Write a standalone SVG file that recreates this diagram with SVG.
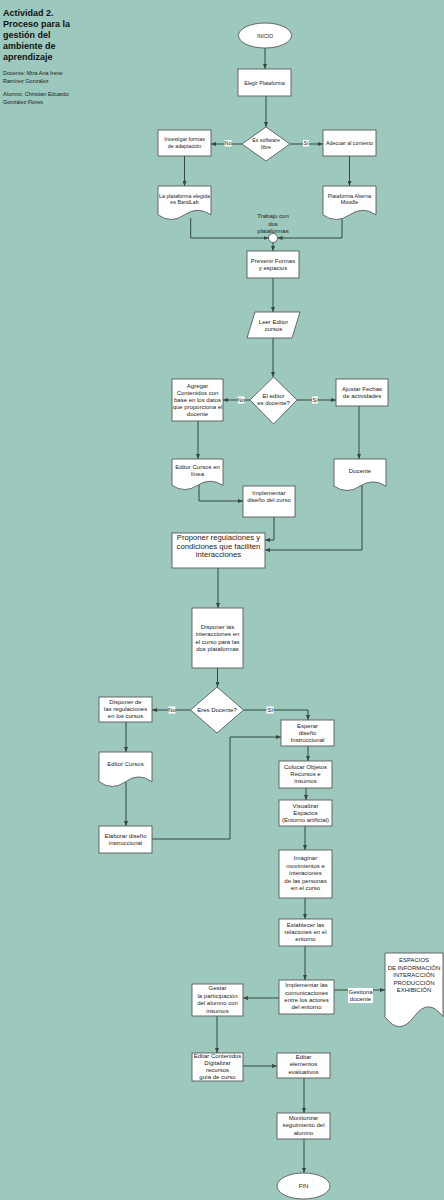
<svg xmlns="http://www.w3.org/2000/svg" width="444" height="1200" viewBox="0 0 444 1200">
<style>
.n{fill:#fff;stroke:#5a5a5a;stroke-width:0.9}
.c{fill:none;stroke:#34483f;stroke-width:1}
.t{font-family:"Liberation Sans",Arial,sans-serif;font-size:6px;fill:#222;text-anchor:middle}
.s{font-size:5.3px}
.lb{fill:#fff}
.ti{font-family:"Liberation Sans",Arial,sans-serif;font-size:9px;font-weight:bold;fill:#111}
.sm{font-family:"Liberation Sans",Arial,sans-serif;font-size:5.5px;fill:#222}
</style>
<defs>
<marker id="a" viewBox="0 0 10 8" markerWidth="5" markerHeight="4" refX="10" refY="4" orient="auto" markerUnits="userSpaceOnUse">
<path d="M0,0 L10,4 L0,8 z" fill="#34483f"/>
</marker>
</defs>
<rect x="0" y="0" width="444" height="1200" fill="#9cc8bd"/>

<g id="title">
<text class="ti" x="3" y="15.5">Actividad 2.</text>
<text class="ti" x="3" y="26.5">Proceso para la</text>
<text class="ti" x="3" y="37.5">gestión del</text>
<text class="ti" x="3" y="48.5">ambiente de</text>
<text class="ti" x="3" y="59.5">aprendizaje</text>
<text class="sm" x="3" y="75">Docente: Mtra Ana Irene</text>
<text class="sm" x="3" y="83">Ramírez González</text>
<text class="sm" x="3" y="96">Alumno: Christian Eduardo</text>
<text class="sm" x="3" y="104">González Flores</text>
</g>

<g id="connectors">
<line class="c" x1="265" y1="48" x2="265" y2="69" marker-end="url(#a)"/>
<line class="c" x1="266" y1="96" x2="266" y2="127" marker-end="url(#a)"/>
<line class="c" x1="242" y1="144" x2="211" y2="144" marker-end="url(#a)"/>
<line class="c" x1="290" y1="144" x2="323" y2="144" marker-end="url(#a)"/>
<line class="c" x1="184.5" y1="156" x2="184.5" y2="186" marker-end="url(#a)"/>
<line class="c" x1="349.5" y1="156" x2="349.5" y2="186" marker-end="url(#a)"/>
<polyline class="c" points="190.7,218 190.7,238 268.5,238" marker-end="url(#a)"/>
<polyline class="c" points="342,218 342,238 277.5,238" marker-end="url(#a)"/>
<line class="c" x1="273" y1="242.5" x2="273" y2="251" marker-end="url(#a)"/>
<line class="c" x1="273" y1="278" x2="273" y2="312" marker-end="url(#a)"/>
<line class="c" x1="273" y1="338" x2="273" y2="377" marker-end="url(#a)"/>
<line class="c" x1="250" y1="400" x2="223" y2="400" marker-end="url(#a)"/>
<line class="c" x1="297" y1="400" x2="336" y2="400" marker-end="url(#a)"/>
<line class="c" x1="198" y1="421" x2="198" y2="459" marker-end="url(#a)"/>
<line class="c" x1="359" y1="406" x2="359" y2="459" marker-end="url(#a)"/>
<polyline class="c" points="199,485 199,501 243,501" marker-end="url(#a)"/>
<polyline class="c" points="274,517 274,540 265,540" marker-end="url(#a)"/>
<polyline class="c" points="362,484 362,550 265,550" marker-end="url(#a)"/>
<line class="c" x1="218" y1="568" x2="218" y2="608" marker-end="url(#a)"/>
<line class="c" x1="217.5" y1="668" x2="217.5" y2="687" marker-end="url(#a)"/>
<line class="c" x1="190.5" y1="710" x2="152" y2="710" marker-end="url(#a)"/>
<polyline class="c" points="243.5,710 308,710 308,720" marker-end="url(#a)"/>
<line class="c" x1="126" y1="722" x2="126" y2="752" marker-end="url(#a)"/>
<line class="c" x1="126" y1="782" x2="126" y2="826" marker-end="url(#a)"/>
<polyline class="c" points="152,839 230,839 230,737 281,737" marker-end="url(#a)"/>
<line class="c" x1="308" y1="746" x2="308" y2="761" marker-end="url(#a)"/>
<line class="c" x1="306" y1="788" x2="306" y2="800" marker-end="url(#a)"/>
<line class="c" x1="305" y1="826" x2="305" y2="850" marker-end="url(#a)"/>
<line class="c" x1="305" y1="898" x2="305" y2="919" marker-end="url(#a)"/>
<line class="c" x1="305" y1="946" x2="305" y2="980" marker-end="url(#a)"/>
<line class="c" x1="279" y1="998" x2="243" y2="998" marker-end="url(#a)"/>
<line class="c" x1="334" y1="990" x2="385" y2="990" marker-end="url(#a)"/>
<line class="c" x1="217" y1="1016" x2="217" y2="1053" marker-end="url(#a)"/>
<line class="c" x1="243" y1="1066" x2="277" y2="1066" marker-end="url(#a)"/>
<line class="c" x1="304" y1="1078" x2="304" y2="1113" marker-end="url(#a)"/>
<line class="c" x1="304" y1="1139" x2="304" y2="1173" marker-end="url(#a)"/>
<!-- labels -->
<rect class="lb" x="224.5" y="140" width="7" height="6.5"/><text class="t s" x="228" y="145.3">No</text>
<rect class="lb" x="303" y="140" width="6" height="6.5"/><text class="t s" x="306" y="145.3">Sí</text>
<rect class="lb" x="237.5" y="396.5" width="7" height="7"/><text class="t" x="241" y="402">No</text>
<rect class="lb" x="312" y="396.5" width="6" height="7"/><text class="t" x="315" y="402">Sí</text>
<rect class="lb" x="168.5" y="706.5" width="7" height="7"/><text class="t" x="172" y="712">No</text>
<rect class="lb" x="266.5" y="706.5" width="7" height="7"/><text class="t" x="270" y="712">SI</text>
<rect class="lb" x="348" y="988" width="25" height="15"/>
<text class="t" x="360.5" y="993.5">Gestiona</text>
<text class="t" x="360.5" y="1000.5">docente</text>
<text class="t" x="273" y="218">Trabajo con</text>
<text class="t" x="273" y="225.5">dos</text>
<text class="t" x="273" y="233">plataformas</text>
</g>

<g id="inicio"><ellipse class="n" cx="265" cy="35.5" rx="26.5" ry="12.5"/><text class="t s" x="265" y="37.5">INICIO</text></g>
<g id="elegir"><rect class="n" x="238" y="69" width="53" height="27"/><text class="t s" x="264.5" y="84.5">Elegir Plataforma</text></g>
<g id="software"><polygon class="n" points="266,127 290,144 266,161 242,144"/><text class="t s" x="266" y="142">Es software</text><text class="t s" x="266" y="149">libre</text></g>
<g id="investigar"><rect class="n" x="158" y="130" width="53" height="26"/><text class="t s" x="184.5" y="141.3">Investigar formas</text><text class="t s" x="184.5" y="148">de adaptación</text></g>
<g id="adecuar"><rect class="n" x="323" y="130" width="53" height="26"/><text class="t s" x="349.5" y="145.3">Adecuar al contexto</text></g>
<g id="bandlab"><path class="n" d="M158,186 H211 V214.9 Q197.75,205.7 184.5,214.9 Q171.25,224.1 158,214.9 Z"/><text class="t s" x="184.5" y="197.7">La plataforma elegida</text><text class="t s" x="184.5" y="203.7">es BandLab</text></g>
<g id="moodle"><path class="n" d="M323,186 H376 V214.9 Q362.75,205.7 349.5,214.9 Q336.25,224.1 323,214.9 Z"/><text class="t s" x="349.5" y="197.7">Plataforma Alterna</text><text class="t s" x="349.5" y="203.7">Moodle</text></g>
<g id="junction"><circle class="n" cx="273" cy="238" r="4.5"/></g>
<g id="prevenir"><rect class="n" x="247" y="251" width="52" height="27"/><text class="t" x="273" y="263">Prevenir Formas</text><text class="t" x="273" y="270">y espacios</text></g>
<g id="leer"><polygon class="n" points="255,312 300,312 292,338 247,338"/><text class="t" x="273.5" y="323.7">Leer Editor</text><text class="t" x="273.5" y="330.7">cursos</text></g>
<g id="editor-docente"><polygon class="n" points="273.5,377 297,400 273.5,424 250,400"/><text class="t" x="273.5" y="398.3">El editor</text><text class="t" x="273.5" y="405.3">es docente?</text></g>
<g id="agregar"><rect class="n" x="172" y="379" width="51" height="42"/>
<text class="t" x="197.5" y="387.5">Agregar</text><text class="t" x="197.5" y="394.7">Contenidos con</text><text class="t" x="197.5" y="401.9">base en los datos</text><text class="t" x="197.5" y="409.1">que proporciona el</text><text class="t" x="197.5" y="416.3">docente</text></g>
<g id="ajustar"><rect class="n" x="336" y="379" width="52" height="27"/><text class="t" x="362" y="391">Ajustar Fechas</text><text class="t" x="362" y="397.7">de actividades</text></g>
<g id="editor-linea"><path class="n" d="M172,459 H223 V485.4 Q210.25,477 197.5,485.4 Q184.75,493.7 172,485.4 Z"/><text class="t" x="197.5" y="469.3">Editor Cursos en</text><text class="t" x="197.5" y="476">línea</text></g>
<g id="docente"><path class="n" d="M334,459 H386 V486.2 Q373,477.6 360,486.2 Q347,494.8 334,486.2 Z"/><text class="t" x="360" y="472.7">Docente</text></g>
<g id="implementar-diseno"><rect class="n" x="243" y="486" width="52" height="31"/><text class="t" x="269" y="495.3">Implementar</text><text class="t" x="269" y="502.3">diseño del curso</text></g>
<g id="proponer"><rect class="n" x="172" y="533" width="93" height="35"/><text class="t" style="font-size:7.7px" x="218.5" y="539.8">Proponer regulaciones y</text><text class="t" style="font-size:7.7px" x="218.5" y="548.6">condiciones que faciliten</text><text class="t" style="font-size:7.7px" x="218.5" y="557.4">interacciones</text></g>
<g id="disponer"><rect class="n" x="192" y="608" width="51" height="60"/><text class="t" x="217.5" y="628.7">Disponer las</text><text class="t" x="217.5" y="636.2">interacciones en</text><text class="t" x="217.5" y="643.7">el curso para las</text><text class="t" x="217.5" y="651">dos plataformas</text></g>
<g id="eres-docente"><polygon class="n" points="217,687 243.5,710 217,733 190.5,710"/><text class="t" x="217" y="711.5">Eres Docente?</text></g>
<g id="disponer-de"><rect class="n" x="99" y="697" width="53" height="25"/><text class="t" x="125.5" y="703.7">Disponer de</text><text class="t" x="125.5" y="711">las regulaciones</text><text class="t" x="125.5" y="718">en los cursos</text></g>
<g id="esperar"><rect class="n" x="281" y="720" width="53" height="26"/><text class="t" x="307.5" y="727.7">Esperar</text><text class="t" x="307.5" y="734.7">diseño</text><text class="t" x="307.5" y="742">Instruccional</text></g>
<g id="editor-cursos"><path class="n" d="M99,752 H152 V781.75 Q138.75,772 125.5,781.75 Q112.25,791.2 99,781.75 Z"/><text class="t" x="125.5" y="766.3">Editor Cursos</text></g>
<g id="elaborar"><rect class="n" x="99" y="826" width="53" height="27"/><text class="t" x="125.5" y="837.7">Elaborar diseño</text><text class="t" x="125.5" y="844.7">instruccional</text></g>
<g id="colocar"><rect class="n" x="279" y="761" width="53" height="27"/><text class="t" x="305.5" y="768.7">Colocar Objetos</text><text class="t" x="305.5" y="776">Recursos e</text><text class="t" x="305.5" y="783.3">insumos</text></g>
<g id="visualizar"><rect class="n" x="279" y="800" width="53" height="26"/><text class="t" x="305.5" y="808">Visualizar</text><text class="t" x="305.5" y="815">Espacios</text><text class="t" x="305.5" y="822.3">(Entorno artificial)</text></g>
<g id="imaginar"><rect class="n" x="279" y="850" width="53" height="48"/><text class="t" x="305.5" y="860.3">Imaginar</text><text class="t" x="305.5" y="867.7">movimientos e</text><text class="t" x="305.5" y="875.1">interaciones</text><text class="t" x="305.5" y="882.5">de las personas</text><text class="t" x="305.5" y="889.9">en el curso</text></g>
<g id="establecer"><rect class="n" x="279" y="919" width="53" height="27"/><text class="t" x="305.5" y="927">Establecer las</text><text class="t" x="305.5" y="934.3">relaciones en el</text><text class="t" x="305.5" y="941.3">entorno</text></g>
<g id="implementar-com"><rect class="n" x="279" y="980" width="55" height="34"/><text class="t" x="306.5" y="987">Implementar las</text><text class="t" x="306.5" y="994.5">comunicaciones</text><text class="t" x="306.5" y="1002">entre los actores</text><text class="t" x="306.5" y="1009.3">del entorno</text></g>
<g id="gestar"><rect class="n" x="192" y="984" width="51" height="32"/><text class="t" x="217.5" y="990.3">Gestar</text><text class="t" x="217.5" y="998">la participación</text><text class="t" x="217.5" y="1005.3">del alumno con</text><text class="t" x="217.5" y="1012.7">insumos</text></g>
<g id="espacios"><path class="n" d="M385,953 H443 V1016.75 Q428.5,997 414,1016.75 Q399.5,1036.5 385,1016.75 Z"/><text class="t" x="414" y="962">ESPACIOS</text><text class="t" x="414" y="969.5">DE INFORMACIÓN</text><text class="t" x="414" y="977">INTERACCIÓN</text><text class="t" x="414" y="984.5">PRODUCCIÓN</text><text class="t" x="414" y="992">EXHIBICIÓN</text></g>
<g id="editar-contenidos"><rect class="n" x="192" y="1053" width="51" height="28"/><text class="t" x="217.5" y="1057.5">Editar Contenidos</text><text class="t" x="217.5" y="1064.7">Digitalizar</text><text class="t" x="217.5" y="1071.5">recursos</text><text class="t" x="217.5" y="1078.7">guía de curso</text></g>
<g id="editar-elementos"><rect class="n" x="277" y="1053" width="53" height="25"/><text class="t" x="303.5" y="1058.7">Editar</text><text class="t" x="303.5" y="1066.3">elementos</text><text class="t" x="303.5" y="1074">evaluativos</text></g>
<g id="monitorizar"><rect class="n" x="277" y="1113" width="53" height="26"/><text class="t" x="303.5" y="1119.7">Monitorizar</text><text class="t" x="303.5" y="1127">seguimiento del</text><text class="t" x="303.5" y="1134.7">alumno</text></g>
<g id="fin"><ellipse class="n" cx="303.5" cy="1186" rx="26.5" ry="13"/><text class="t" x="303.5" y="1188">FIN</text></g>
</svg>
